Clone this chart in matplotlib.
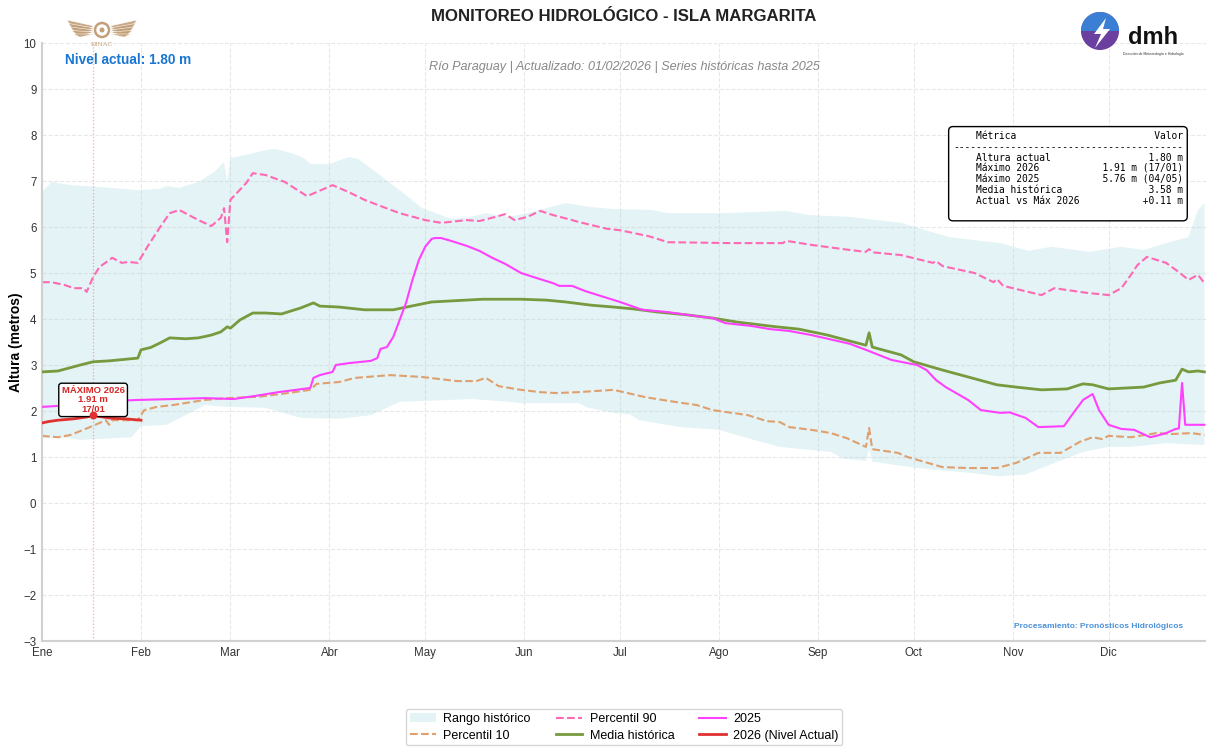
import numpy as np
import matplotlib.pyplot as plt
from matplotlib.patches import Circle, Polygon, Wedge

# ---------------------------------------------------------------------------
# datos (dia del año, 0 = 1 de enero)
# ---------------------------------------------------------------------------
meses = ['Ene', 'Feb', 'Mar', 'Abr', 'May', 'Jun', 'Jul', 'Ago', 'Sep', 'Oct', 'Nov', 'Dic']
inicio_mes = [0, 31, 59, 90, 120, 151, 181, 212, 243, 273, 304, 334]

# rango historico: maximo
dias_max = [0, 3, 9, 18, 30, 37, 39, 43, 49, 54, 57, 58, 59, 64, 70, 73, 78, 82, 84, 90,
            96, 99, 105, 112, 119, 128, 133, 139, 146, 152, 164, 172, 179, 191, 196, 212,
            233, 240, 253, 269, 284, 300, 309, 316, 328, 338, 345, 352, 359, 362, 364]
rango_max = [6.76, 6.98, 6.91, 6.87, 6.80, 6.83, 6.89, 6.85, 6.98, 7.20, 7.41, 6.98, 7.50,
             7.57, 7.67, 7.70, 7.61, 7.50, 7.37, 7.37, 7.52, 7.48, 7.17, 6.80, 6.41, 6.18,
             6.20, 6.30, 6.22, 6.30, 6.52, 6.43, 6.39, 6.37, 6.30, 6.30, 6.35, 6.26, 6.22,
             6.09, 5.78, 5.65, 5.48, 5.57, 5.46, 5.57, 5.50, 5.65, 5.78, 6.37, 6.52]

# rango historico: minimo
dias_min = [0, 9, 12, 20, 28, 31, 39, 45, 51, 58, 70, 81, 93, 103, 112, 135, 146, 150, 168,
            171, 179, 184, 187, 200, 212, 221, 231, 247, 251, 258, 259, 260, 274, 290, 300,
            308, 317, 326, 334, 341, 352, 364]
rango_min = [1.41, 1.41, 1.37, 1.40, 1.43, 1.67, 1.70, 1.91, 2.13, 2.09, 2.07, 1.85, 1.83,
             1.91, 2.20, 2.26, 2.20, 2.17, 2.17, 2.07, 1.96, 1.93, 1.80, 1.65, 1.59, 1.41,
             1.22, 1.11, 0.96, 0.92, 1.17, 0.90, 0.76, 0.66, 0.58, 0.62, 0.87, 1.11, 1.22,
             1.22, 1.30, 1.26]

# percentil 90
dias_p90 = [0, 3, 7, 10, 13, 14, 16, 18, 22, 25, 27, 30, 33, 37, 40, 43, 49, 53, 56, 57,
            58, 59, 64, 66, 70, 76, 83, 86, 91, 96, 101, 107, 112, 120, 125, 133, 137, 142,
            145, 148, 152, 156, 160, 166, 168, 177, 181, 190, 196, 216, 232, 233, 241, 253,
            258, 259, 260, 269, 279, 280, 282, 292, 298, 299, 301, 310, 313, 317, 323, 327,
            334, 338, 341, 343, 346, 352, 356, 359, 362, 364]
p90 = [4.80, 4.80, 4.74, 4.67, 4.67, 4.59, 4.91, 5.13, 5.33, 5.22, 5.24, 5.22, 5.57, 6.00,
       6.30, 6.37, 6.15, 6.02, 6.20, 6.41, 5.67, 6.59, 6.96, 7.17, 7.13, 6.98, 6.67, 6.76,
       6.91, 6.76, 6.59, 6.43, 6.30, 6.15, 6.09, 6.15, 6.13, 6.22, 6.28, 6.15, 6.22, 6.35,
       6.26, 6.15, 6.11, 5.96, 5.93, 5.80, 5.67, 5.65, 5.65, 5.70, 5.61, 5.50, 5.46, 5.52,
       5.45, 5.39, 5.22, 5.26, 5.15, 5.00, 4.80, 4.87, 4.72, 4.57, 4.52, 4.67, 4.61, 4.57,
       4.52, 4.67, 4.96, 5.17, 5.35, 5.22, 5.02, 4.85, 4.96, 4.78]

# percentil 10
dias_p10 = [0, 5, 9, 15, 20, 21, 22, 30, 32, 36, 41, 51, 58, 68, 77, 84, 86, 93, 98, 109,
            119, 130, 136, 139, 143, 150, 156, 161, 168, 179, 189, 198, 205, 210, 221, 227,
            231, 234, 241, 247, 252, 258, 259, 260, 268, 271, 282, 290, 299, 305, 312, 319,
            325, 329, 332, 334, 341, 349, 354, 360, 364]
p10 = [1.46, 1.43, 1.48, 1.65, 1.80, 1.70, 1.80, 1.80, 2.02, 2.09, 2.13, 2.24, 2.28, 2.31,
       2.39, 2.46, 2.59, 2.63, 2.72, 2.78, 2.74, 2.65, 2.65, 2.72, 2.54, 2.46, 2.41, 2.39,
       2.41, 2.46, 2.30, 2.20, 2.13, 2.02, 1.91, 1.78, 1.76, 1.65, 1.59, 1.52, 1.41, 1.22,
       1.63, 1.17, 1.09, 1.00, 0.78, 0.76, 0.76, 0.87, 1.09, 1.09, 1.33, 1.43, 1.39, 1.46,
       1.43, 1.52, 1.50, 1.52, 1.48]

# media historica
dias_media = [0, 5, 12, 16, 21, 30, 31, 34, 37, 40, 45, 49, 53, 56, 58, 59, 62, 66, 70, 75,
              81, 85, 87, 93, 101, 110, 117, 122, 138, 150, 158, 164, 172, 179, 185, 193,
              202, 210, 218, 230, 237, 246, 253, 258, 259, 260, 269, 273, 282, 290, 299, 305,
              313, 321, 326, 329, 334, 345, 350, 355, 357, 359, 362, 364]
media = [2.85, 2.87, 3.00, 3.07, 3.09, 3.15, 3.33, 3.38, 3.48, 3.59, 3.57, 3.59, 3.65, 3.72,
         3.83, 3.80, 3.98, 4.13, 4.13, 4.11, 4.24, 4.35, 4.28, 4.26, 4.20, 4.20, 4.30, 4.37,
         4.43, 4.43, 4.41, 4.37, 4.30, 4.26, 4.22, 4.15, 4.09, 4.02, 3.93, 3.83, 3.78, 3.65,
         3.52, 3.43, 3.70, 3.39, 3.22, 3.07, 2.89, 2.74, 2.57, 2.52, 2.46, 2.48, 2.59, 2.57,
         2.48, 2.52, 2.61, 2.67, 2.91, 2.85, 2.87, 2.85]

# año 2025
dias_2025 = [0, 5, 16, 30, 41, 51, 60, 67, 74, 84, 85, 87, 91, 92, 96, 103, 105, 106, 108,
             110, 112, 114, 116, 118, 120, 122, 123, 125, 128, 133, 137, 141, 145, 150, 154,
             160, 162, 166, 170, 175, 181, 188, 196, 204, 210, 214, 222, 228, 234, 241, 248,
             253, 258, 266, 274, 277, 280, 283, 290, 294, 300, 303, 308, 312, 320, 323, 326,
             329, 331, 334, 338, 342, 347, 349, 352, 355, 356, 357, 358, 364]
serie_2025 = [2.09, 2.11, 2.20, 2.24, 2.26, 2.28, 2.26, 2.33, 2.41, 2.50, 2.72, 2.78, 2.85,
              3.00, 3.04, 3.09, 3.15, 3.35, 3.39, 3.61, 3.98, 4.35, 4.85, 5.28, 5.57, 5.74,
              5.76, 5.76, 5.70, 5.59, 5.48, 5.33, 5.20, 5.00, 4.91, 4.78, 4.72, 4.72, 4.61,
              4.50, 4.37, 4.20, 4.15, 4.07, 4.02, 3.91, 3.85, 3.78, 3.74, 3.65, 3.54, 3.46,
              3.33, 3.11, 3.00, 2.89, 2.67, 2.52, 2.24, 2.02, 1.96, 1.97, 1.85, 1.65, 1.67,
              1.96, 2.24, 2.37, 2.02, 1.70, 1.61, 1.59, 1.43, 1.46, 1.52, 1.61, 1.62, 2.61,
              1.70, 1.70]

# año 2026 (nivel actual)
dias_2026 = [0, 2, 5, 10, 14, 16, 18, 22, 26, 31]
serie_2026 = [1.74, 1.77, 1.80, 1.83, 1.87, 1.91, 1.88, 1.84, 1.83, 1.80]

dia_max_2026 = 16
max_2026 = 1.91

metricas = ['Altura actual', 'Máximo 2026', 'Máximo 2025', 'Media histórica', 'Actual vs Máx 2026']
valores = ['1.80 m', '1.91 m (17/01)', '5.76 m (04/05)', '3.58 m', '+0.11 m']

# ---------------------------------------------------------------------------
plt.rcParams['font.family'] = ['Liberation Sans', 'DejaVu Sans']

fig = plt.figure(figsize=(12.06, 7.49), dpi=100)
ax = fig.add_axes([42 / 1206, 108 / 749, 1164 / 1206, 598 / 749])

banda = ax.fill(np.concatenate([dias_max, dias_min[::-1]]),
                np.concatenate([rango_max, rango_min[::-1]]),
                color='#a8d8df', alpha=0.3, lw=0, label='Rango histórico', zorder=1)[0]
l_p10, = ax.plot(dias_p10, p10, color='#dfa06e', ls='--', lw=1.5, label='Percentil 10', zorder=2)
l_p90, = ax.plot(dias_p90, p90, color='#ff69b4', ls='--', lw=1.5, label='Percentil 90', zorder=2)
l_med, = ax.plot(dias_media, media, color='#779a3e', lw=2, label='Media histórica', zorder=3)
l_25, = ax.plot(dias_2025, serie_2025, color='#ff40ff', lw=1.5, label='2025', zorder=3)
l_26, = ax.plot(dias_2026, serie_2026, color='#e03030', lw=2, label='2026 (Nivel Actual)', zorder=4)

ax.axvline(dia_max_2026, color='#ff6060', ls=':', lw=0.9, alpha=0.55, zorder=1)
ax.annotate(f'MÁXIMO 2026\n{max_2026:.2f} m\n17/01', xy=(dia_max_2026, max_2026),
            xytext=(0, 1), textcoords='offset points', ha='center', va='bottom',
            fontsize=6.8, fontweight='bold', color='#d62728', linespacing=1.05,
            bbox=dict(boxstyle='round,pad=0.3', fc='white', ec='black', lw=1), zorder=5)
ax.scatter([dia_max_2026], [max_2026], s=22, color='#e03030', zorder=10)

ax.set_xlim(0, 364.5)
ax.set_ylim(-3, 10)
ax.set_xticks(inicio_mes)
ax.set_xticklabels(meses)
ax.set_yticks(range(-3, 11))
ax.tick_params(length=0, labelsize=8.3, colors='#333333', pad=4)
ax.grid(True, ls='--', color='#e8e8e8', lw=0.8)
ax.set_axisbelow(True)
for s in ['top', 'right']:
    ax.spines[s].set_visible(False)
for s in ['left', 'bottom']:
    ax.spines[s].set_color('#d0d0d0')
    ax.spines[s].set_linewidth(1.5)
ax.set_ylabel('Altura (metros)', fontsize=10, fontweight='bold')
ax.yaxis.set_label_coords(-0.0165, 0.5)

ax.set_title('MONITOREO HIDROLÓGICO - ISLA MARGARITA', fontsize=12.1, fontweight='bold',
             color='#222222', pad=16)
ax.text(0.5, 0.96, 'Río Paraguay | Actualizado: 01/02/2026 | Series históricas hasta 2025',
        transform=ax.transAxes, ha='center', va='center', fontsize=9.1, style='italic',
        color='#888888')
ax.text(0.02, 0.972, 'Nivel actual: 1.80 m', transform=ax.transAxes, ha='left', va='center',
        fontsize=9.8, fontweight='bold', color='#1976d2')
ax.text(0.98, 0.025, 'Procesamiento: Pronósticos Hidrológicos', transform=ax.transAxes,
        ha='right', va='center', fontsize=6, fontweight='bold', color='#4a90d9')

# tabla de metricas
tabla = [f"    {'Métrica':<20}{'Valor':>16}", '-' * 40]
for m, v in zip(metricas, valores):
    tabla.append(f'    {m:<20}{v:>16}')
tabla.append('')
ax.text(0.9802, 0.853, '\n'.join(tabla), transform=ax.transAxes, ha='right', va='top',
        family='DejaVu Sans Mono', fontsize=6.9, linespacing=1.1,
        bbox=dict(boxstyle='round,pad=0.45', fc='white', ec='black', lw=1), zorder=6)

ax.legend(handles=[banda, l_p10, l_p90, l_med, l_25, l_26], loc='upper center',
          bbox_to_anchor=(0.5, -0.104), ncol=3, fontsize=9, frameon=True,
          edgecolor='#cccccc', fancybox=True, columnspacing=2.0, handletextpad=0.6,
          handlelength=2.1, borderpad=0.3, labelspacing=0.35)

# logos (aproximados)
lg = fig.add_axes([62 / 1206, 1 - 50 / 749, 80 / 1206, 36 / 749])
lg.set_xlim(62, 142)
lg.set_ylim(50, 14)
lg.axis('off')
oro = '#c4a07a'
lg.add_patch(Circle((102, 30), 7, fc='none', ec=oro, lw=1.8))
lg.add_patch(Circle((102, 30), 2.5, fc=oro, ec='none'))
for k in range(5):
    lg.add_patch(Polygon([(94, 26 + k * 2), (67 + k * 1.5, 20 + k * 3.5), (76 + k, 34 + k * 0.8)],
                         fc=oro, ec='white', lw=0.4, alpha=0.9))
    lg.add_patch(Polygon([(110, 26 + k * 2), (137 - k * 1.5, 20 + k * 3.5), (128 - k, 34 + k * 0.8)],
                         fc=oro, ec='white', lw=0.4, alpha=0.9))
lg.text(102, 44, 'DINAC', ha='center', va='center', fontsize=4.5, color=oro, family='DejaVu Serif')

dl = fig.add_axes([1075 / 1206, 1 - 60 / 749, 110 / 1206, 50 / 749])
dl.set_xlim(1075, 1185)
dl.set_ylim(60, 10)
dl.axis('off')
dl.add_patch(Circle((1100, 31), 19, fc='#6a3fa0', ec='none'))
dl.add_patch(Wedge((1100, 31), 19, 180, 360, fc='#3b7fd4', ec='none'))
dl.add_patch(Polygon([(1106, 18), (1094, 34), (1101, 34), (1095, 48), (1110, 29), (1103, 29)],
                     fc='white', ec='none'))
dl.text(1153, 38, 'dmh', ha='center', va='center', fontsize=17, fontweight='bold', color='#111111')
dl.text(1153, 54, 'Dirección de Meteorología e Hidrología', ha='center', va='center',
        fontsize=2.5, color='#333333')

fig.savefig('out.png', dpi=100)
